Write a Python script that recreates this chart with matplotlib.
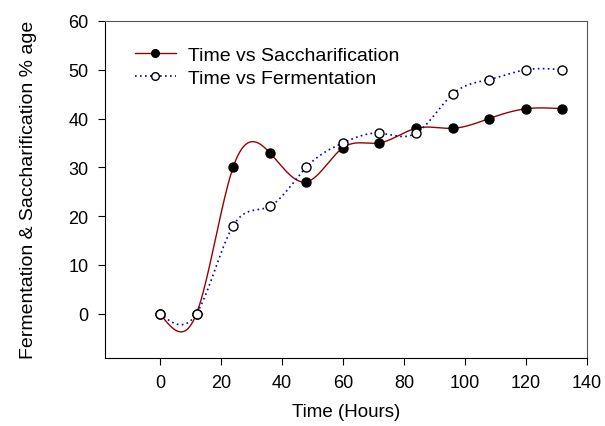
import numpy as np
import matplotlib
matplotlib.use("Agg")
import matplotlib.pyplot as plt

plt.rcParams['font.family'] = ['Liberation Sans', 'DejaVu Sans']

hours = [0, 12, 24, 36, 48, 60, 72, 84, 96, 108, 120, 132]
saccharification = [0, 0, 30, 33, 27, 34, 35, 38, 38, 40, 42, 42]
fermentation = [0, 0, 18, 22, 30, 35, 37, 37, 45, 48, 50, 50]


def natural_spline(x, y, n=400):
    # natural cubic spline through the points, for the smooth curve
    x = np.asarray(x, float)
    y = np.asarray(y, float)
    k = len(x)
    h = np.diff(x)
    A = np.zeros((k, k))
    b = np.zeros(k)
    A[0, 0] = 1
    A[-1, -1] = 1
    for i in range(1, k - 1):
        A[i, i - 1] = h[i - 1]
        A[i, i] = 2 * (h[i - 1] + h[i])
        A[i, i + 1] = h[i]
        b[i] = 3 * ((y[i + 1] - y[i]) / h[i] - (y[i] - y[i - 1]) / h[i - 1])
    c = np.linalg.solve(A, b)
    xs = np.linspace(x[0], x[-1], n)
    ys = np.empty_like(xs)
    for j, xv in enumerate(xs):
        i = min(np.searchsorted(x, xv, side='right') - 1, k - 2)
        dx = xv - x[i]
        bi = (y[i + 1] - y[i]) / h[i] - h[i] * (2 * c[i] + c[i + 1]) / 3
        di = (c[i + 1] - c[i]) / (3 * h[i])
        ys[j] = y[i] + bi * dx + c[i] * dx ** 2 + di * dx ** 3
    return xs, ys


fig = plt.figure(figsize=(6.05, 4.27), dpi=100)
ax = fig.add_axes([0.1736, 0.1604, 0.7964, 0.7881])

xs, ys = natural_spline(hours, saccharification)
ax.plot(xs, ys, color='#990000', lw=1.0)
xs, ys = natural_spline(hours, fermentation)
ax.plot(xs, ys, color='#0000cc', lw=1.2, ls=(0, (1, 2)))

ax.plot(hours, saccharification, 'o', color='black', ms=6.5, mec='black')
ax.plot(hours, fermentation, 'o', color='white', ms=6.5, mec='black', mew=1)

# legend handles
ax.plot([], [], '-o', color='#990000', mfc='black', mec='black', ms=5.5, lw=1.0,
        label='Time vs Saccharification')
ax.plot([], [], 'o', ls=(0, (1, 2)), color='#0000cc', mfc='white', mec='black', ms=5.5, lw=1.2,
        label='Time vs Fermentation')
handles, labels = ax.get_legend_handles_labels()
ax.legend(handles, labels, loc='upper left', bbox_to_anchor=(0.026, 0.978), frameon=False,
          fontsize=14, handlelength=2.1, labelspacing=0.3, handletextpad=0.6)

ax.set_xlim(-18, 140)
ax.set_ylim(-9, 60)
ax.set_xticks(np.arange(0, 141, 20))
ax.set_yticks(np.arange(0, 61, 10))
ax.tick_params(direction='out', labelsize=13, length=5, top=False, right=False)
ax.tick_params(axis='y', pad=7)
ax.tick_params(axis='x', pad=7)
for s in ['top', 'right']:
    ax.spines[s].set_color('#555555')
ax.set_xlabel('Time (Hours)', fontsize=13.5)
ax.set_ylabel('Fermentation & Saccharification % age', fontsize=14)
ax.xaxis.set_label_coords(0.5, -0.159)
ax.yaxis.set_label_coords(-0.158, 0.5)
ax.xaxis.label.set_va('center')
ax.yaxis.label.set_va('center')

plt.savefig('out.png', dpi=100)
